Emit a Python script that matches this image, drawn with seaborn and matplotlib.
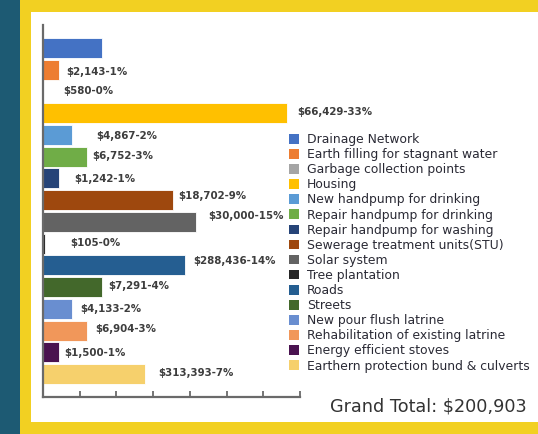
import matplotlib
matplotlib.use("Agg")
import matplotlib.pyplot as plt
from matplotlib.patches import Rectangle, Patch
import seaborn as sns
import pandas as pd

# ---- data ----
categories = [
    "Drainage Network",
    "Earth filling for stagnant water",
    "Garbage collection points",
    "Housing",
    "New handpump for drinking",
    "Repair handpump for drinking",
    "Repair handpump for washing",
    "Sewerage treatment units(STU)",
    "Solar system",
    "Tree plantation",
    "Roads",
    "Streets",
    "New pour flush latrine",
    "Rehabilitation of existing latrine",
    "Energy efficient stoves",
    "Earthern protection bund & culverts",
]
# bar lengths as drawn in the picture (axis units, ticks 0..7)
bar_values = [1.60, 0.43, 0.0, 6.64, 0.80, 1.19, 0.43, 3.53, 4.16, 0.05,
              3.88, 1.60, 0.80, 1.19, 0.43, 2.78]
bar_labels = ["", "$2,143-1%", "$580-0%", "$66,429-33%", "$4,867-2%",
              "$6,752-3%", "$1,242-1%", "$18,702-9%", "$30,000-15%",
              "$105-0%", "$288,436-14%", "$7,291-4%", "$4,133-2%",
              "$6,904-3%", "$1,500-1%", "$313,393-7%"]
grand_total = "Grand Total: $200,903"

colors = ["#4472C4", "#ED7D31", "#A5A5A5", "#FFC000", "#5B9BD5", "#70AD47",
          "#264478", "#9E480E", "#636363", "#262626", "#255E91", "#43682B",
          "#698ED0", "#F1975A", "#4A1350", "#F6D06C"]

# label layout offsets (pixels, right / down)
label_dx = [0, 7, 20, 10, 24, 6, 15, 6, 13, 25, 8, 7, 8, 9, 5, 13]
label_dy = [0, 2, 0, -1, 1, -1, 1, -4, -6, -1, -4, -1, 0, -2, 1, -1]

W, H = 538, 434
plt.rcParams['font.family'] = ['DejaVu Sans']
fig = plt.figure(figsize=(W / 100, H / 100), dpi=100)
fig.patch.set_facecolor("#1D5A73")
fig.add_artist(Rectangle((20 / W, 0), 1, 1, transform=fig.transFigure,
                         facecolor="#F2D022", edgecolor="none", zorder=0))
fig.add_artist(Rectangle((31 / W, 1 - 422 / H), 1, (422 - 12) / H,
                         transform=fig.transFigure, facecolor="white",
                         edgecolor="none", zorder=0))

ax = fig.add_axes([43 / W, 1 - 397 / H, (300 - 43) / W, (397 - 25) / H])
ax.patch.set_alpha(0)

df = pd.DataFrame({"category": categories, "value": bar_values})
sns.barplot(data=df, x="value", y="category", hue="category",
            palette=colors, legend=False, orient="h", width=0.92,
            saturation=1, edgecolor="white", linewidth=0.6, ax=ax)

ax.set_xlim(0, 7)
ax.set_ylim(len(categories) - 1 + 1.06, -1.06)
ax.set_xticks(range(1, 8))
ax.set_xticklabels([])
ax.set_yticks([])
ax.set_xlabel("")
ax.set_ylabel("")
for s in ["top", "right"]:
    ax.spines[s].set_visible(False)
for s in ["left", "bottom"]:
    ax.spines[s].set_color("#6A6A6A")
    ax.spines[s].set_linewidth(1.6)
ax.tick_params(axis="x", direction="in", length=4, width=1.3, color="#6A6A6A")

for i, (v, lab) in enumerate(zip(bar_values, bar_labels)):
    if lab:
        ax.annotate(lab, xy=(v, i), xytext=(label_dx[i], -label_dy[i]),
                    textcoords="offset pixels", ha="left", va="center",
                    fontsize=7.4, fontweight="bold", color="#3D3D3D")

handles = [Patch(facecolor=c, edgecolor="none") for c in colors]
leg = fig.legend(handles, categories, loc="upper left",
                 bbox_to_anchor=(289 / W, 1 - 133 / H), frameon=False,
                 fontsize=8.9, handlelength=0.82, handleheight=0.82,
                 handletextpad=0.65, labelspacing=0.17, borderpad=0,
                 borderaxespad=0)
for t in leg.get_texts():
    t.set_color("#2A2A35")

fig.text(330 / W, 1 - 406 / H, grand_total, ha="left", va="center",
         fontsize=12.7, color="#333333")

fig.savefig("out.png", dpi=100)
